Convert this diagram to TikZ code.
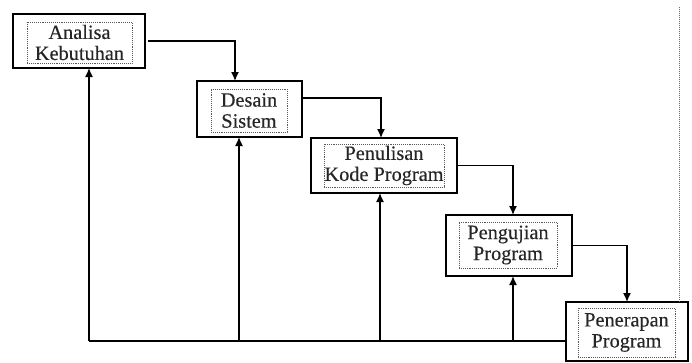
\documentclass[tikz,border=0pt]{standalone}
\usepackage{fontspec}
\setmainfont{Liberation Serif}
\usetikzlibrary{arrows.meta}
\begin{document}
\begin{tikzpicture}[x=1pt,y=-1pt,
  outer/.style={draw=black,line width=1.4pt,minimum width=#1,inner sep=0pt,outer sep=0pt},
  inner/.style={draw=black!65,densely dotted,line width=0.9pt,inner sep=0pt,outer sep=0pt,align=center,
    font=\fontsize{20.3}{21}\selectfont\addfontfeature{FakeBold=0.35},text=black!85},
  arr/.style={line width=1.4pt,-{Latex[length=9pt,width=8pt]}},
  ln/.style={line width=1.4pt}]
\useasboundingbox (0,0) rectangle (692,362);
% outer boxes
\node[outer=132pt,minimum height=54pt] (b1) at (79,41) {};
\node[outer=105pt,minimum height=56pt] (b2) at (249.5,109) {};
\node[outer=146pt,minimum height=55pt] (b3) at (384,165.5) {};
\node[outer=126pt,minimum height=61pt] (b4) at (509,245.5) {};
\node[outer=122pt,minimum height=59pt] (b5) at (627,331.5) {};
% inner dotted text boxes
\node[inner,minimum width=105pt,minimum height=41pt] (t1) at (79.5,42.5) {Analisa\\Kebutuhan};
\node[inner,minimum width=76pt,minimum height=43pt] (t2) at (249,110.5) {Desain\\Sistem};
\node[inner,minimum width=120pt,minimum height=43pt] (t3) at (384,165.5) {Penulisan\\Kode Program};
\node[inner,minimum width=98pt,minimum height=46pt] (t4) at (508,245) {Pengujian\\Program};
\node[inner,minimum width=97pt,minimum height=49pt] (t5) at (626.5,332.5) {Penerapan\\Program};
% forward connectors
\draw[arr] ([xshift=3pt]b1.east) -| ([xshift=-14.5pt]b2.north);
\draw[arr] ([yshift=11pt]b2.east) -| ([xshift=-3pt]b3.north);
\draw[arr] (b3.east) -| ([xshift=4pt]b4.north);
\draw[arr] (b4.east) -| (b5.north);
% feedback
\coordinate (j1) at (89,341);
\coordinate (j2) at (239,341);
\coordinate (j3) at (380,341);
\coordinate (j4) at (513,341);
\draw[ln] ([yshift=-9.5pt]b5.west) -- (j1);
\draw[arr] (j1) -- ([xshift=10pt]b1.south);
\draw[arr] (j2) -- ([xshift=-10.5pt]b2.south);
\draw[arr] (j3) -- ([xshift=-4pt]b3.south);
\draw[arr] (j4) -- ([xshift=4pt]b4.south);
% dotted vertical line
\coordinate (d0) at (679,7);
\draw[black!60,densely dotted,line width=1pt] (d0) -- (d0 |- b5.north);
\end{tikzpicture}
\end{document}
